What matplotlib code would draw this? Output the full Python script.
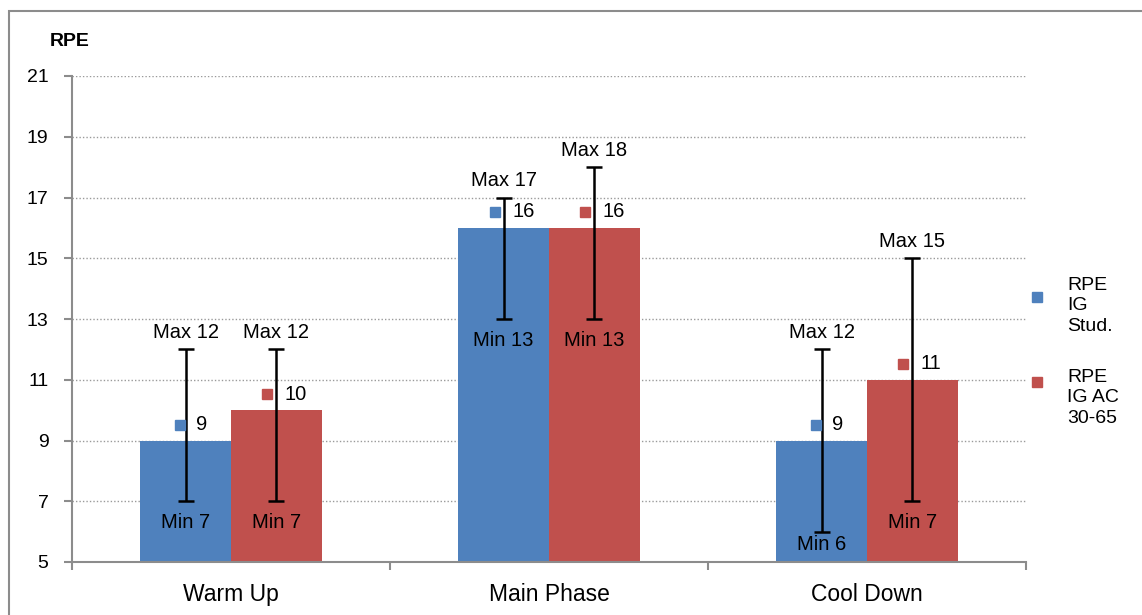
import matplotlib.pyplot as plt
import numpy as np
from matplotlib.patches import Rectangle
from matplotlib.lines import Line2D
from matplotlib.transforms import ScaledTranslation

plt.rcParams['font.family'] = ['Liberation Sans', 'DejaVu Sans']

PHASES = ["Warm Up", "Main Phase", "Cool Down"]
SERIES = ["RPE\nIG\nStud.", "RPE\nIG AC\n30-65"]
COLORS = ["#4F81BD", "#C0504D"]
MEAN_STUD = [9, 16, 9]
MIN_STUD = [7, 13, 6]
MAX_STUD = [12, 17, 12]
MEAN_AC = [10, 16, 11]
MIN_AC = [7, 13, 7]
MAX_AC = [12, 18, 15]
YTICKS = [5, 7, 9, 11, 13, 15, 17, 19, 21]

W, H = 1142, 615
fig = plt.figure(figsize=(W / 100, H / 100), dpi=100)
ax = fig.add_axes([72 / W, 1 - 562 / H, (1026 - 72) / W, (562 - 76) / H])

# outer chart frame (only left and top edges are inside the picture)
fig.patches.append(Rectangle((9 / W, -0.1), 1.2, 1 - 11 / H + 0.1, transform=fig.transFigure,
                             fill=False, edgecolor="#8c8c8c", linewidth=1.5))

x = np.arange(len(PHASES))
bw = 0.286
means = [MEAN_STUD, MEAN_AC]
mins = [MIN_STUD, MIN_AC]
maxs = [MAX_STUD, MAX_AC]
px = 2.0 / 60.75  # data units per pixel

for k in range(2):
    xs = x + (k - 0.5) * bw
    m = np.array(means[k])
    lo = np.array(mins[k])
    hi = np.array(maxs[k])
    ax.bar(xs, m - 5, bottom=5, width=bw, color=COLORS[k], zorder=2)
    ax.errorbar(xs, (lo + hi) / 2, yerr=(hi - lo) / 2, fmt='none', ecolor='black',
                elinewidth=1.8, capsize=6, capthick=1.8, zorder=3)
    for xi, mi, l, h in zip(xs, m, lo, hi):
        ax.text(xi, h + 17 * px, "Max %d" % h, ha='center', va='center', fontsize=14.5, zorder=4)
        ax.text(xi, max(l - 21 * px, 5 + 17 * px), "Min %d" % l, ha='center', va='center',
                fontsize=14.5, zorder=4)
        s = str(mi)
        sq_off, txt_off = (-5.5, 10.5) if len(s) == 1 else (-9, 8.5)
        ax.plot([xi], [mi + 16 * px], marker='s', markersize=7, color=COLORS[k],
                linestyle='none', zorder=4,
                transform=ax.transData + ScaledTranslation(sq_off / 100, 0, fig.dpi_scale_trans))
        ax.annotate(s, (xi, mi + 16 * px), xytext=(txt_off, 0), textcoords='offset pixels',
                    ha='left', va='center', fontsize=14.5, zorder=4)

ax.set_xlim(-0.5, 2.5)
ax.set_ylim(5, 21)
ax.set_yticks(YTICKS)
ax.set_yticklabels([str(t) for t in YTICKS], fontsize=14)
ax.set_xticks([-0.5, 0.5, 1.5, 2.5])
ax.set_xticklabels([])
ax.set_xticks(x, minor=True)
ax.set_xticklabels(PHASES, minor=True, fontsize=16.5)
ax.tick_params(axis='x', which='minor', length=0, pad=15)
ax.tick_params(axis='x', which='major', length=6, color="#8c8c8c", width=1.5)
ax.tick_params(axis='y', length=6, color="#8c8c8c", width=1.5, pad=11)
for t in YTICKS[1:]:
    ax.axhline(t, color="#9a9a9a", linestyle=(0, (1, 1.5)), linewidth=1, zorder=1)
for sp in ['top', 'right']:
    ax.spines[sp].set_visible(False)
for sp in ['left', 'bottom']:
    ax.spines[sp].set_color("#8c8c8c")
    ax.spines[sp].set_linewidth(1.5)
ax.spines['bottom'].set_zorder(5)

fig.text(50 / W, 1 - 42 / H, "RPE", fontsize=14, fontweight='bold', ha='left', va='center')

# legend
for k, (lab, sq_y, txt_y) in enumerate([(SERIES[0], 297, 306), (SERIES[1], 382, 398)]):
    fig.lines.append(Line2D([1037 / W], [1 - sq_y / H], marker='s', markersize=7,
                            color=COLORS[k], linestyle='none', transform=fig.transFigure))
    fig.text(1067 / W, 1 - txt_y / H, lab, fontsize=14, ha='left', va='center', linespacing=1.25)

fig.savefig("out.png", dpi=100)
